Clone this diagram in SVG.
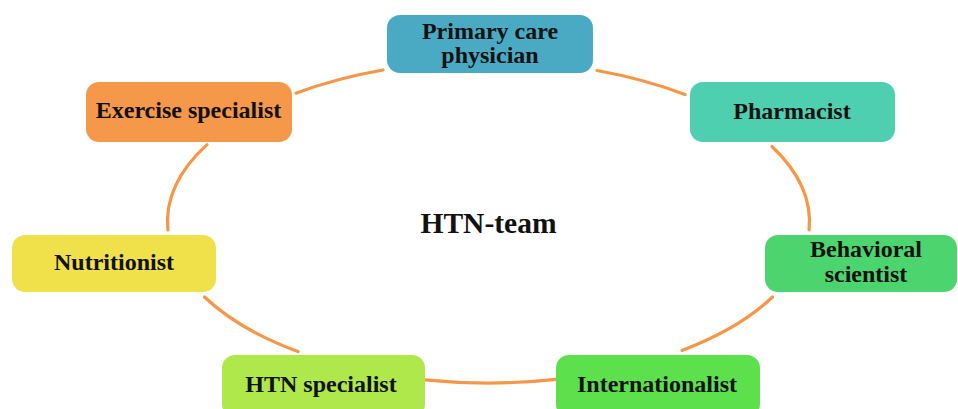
<svg xmlns="http://www.w3.org/2000/svg" width="958" height="409" viewBox="0 0 958 409">
<style>
.box{stroke:none}
.lbl{font-family:"Liberation Serif","Times New Roman",serif;font-weight:bold;font-size:24px;fill:#111;text-anchor:middle}
.title{font-family:"Liberation Serif","Times New Roman",serif;font-weight:bold;font-size:29.5px;fill:#111;text-anchor:middle}
.arc{fill:none;stroke:#F79646;stroke-width:3.2;stroke-linecap:round}
</style>
<rect width="958" height="409" fill="#ffffff"/>
<g id="connectors">
<path class="arc" d="M597,70.5 A321,161 0 0 1 685,94.6"/>
<path class="arc" d="M772,146.5 A321,161 0 0 1 809.1,230"/>
<path class="arc" d="M772.5,297 A321,161 0 0 1 682,350.4"/>
<path class="arc" d="M556,379.4 A321,161 0 0 1 425,379.8"/>
<path class="arc" d="M298,351.6 A321,161 0 0 1 204.5,297"/>
<path class="arc" d="M167.9,230 A321,161 0 0 1 207,144.6"/>
<path class="arc" d="M296,93.2 A321,161 0 0 1 383,70"/>
</g>
<g id="center">
<text class="title" x="488.5" y="233">HTN-team</text>
</g>
<g id="primary-care-physician">
<rect class="box" x="387" y="15" width="206" height="58" rx="13" fill="#4AAAC4"/>
<text class="lbl" x="490" y="39">Primary care</text>
<text class="lbl" x="490" y="63">physician</text>
</g>
<g id="pharmacist">
<rect class="box" x="690" y="82" width="205" height="60" rx="13" fill="#4DCFB0"/>
<text class="lbl" x="792" y="119">Pharmacist</text>
</g>
<g id="behavioral-scientist">
<rect class="box" x="765" y="235" width="192" height="57" rx="13" fill="#4CD56E"/>
<text class="lbl" x="866" y="257">Behavioral</text>
<text class="lbl" x="866" y="282">scientist</text>
</g>
<g id="internationalist">
<rect class="box" x="556" y="355" width="204" height="62" rx="13" fill="#5CE04C"/>
<text class="lbl" x="657" y="392">Internationalist</text>
</g>
<g id="htn-specialist">
<rect class="box" x="222" y="355" width="203" height="62" rx="13" fill="#AEE84A"/>
<text class="lbl" x="321" y="392">HTN specialist</text>
</g>
<g id="nutritionist">
<rect class="box" x="12" y="235" width="204" height="57" rx="13" fill="#F0E14A"/>
<text class="lbl" x="114" y="270">Nutritionist</text>
</g>
<g id="exercise-specialist">
<rect class="box" x="86" y="82" width="206" height="60" rx="13" fill="#F6984A"/>
<text class="lbl" x="188.5" y="118">Exercise specialist</text>
</g>
</svg>
